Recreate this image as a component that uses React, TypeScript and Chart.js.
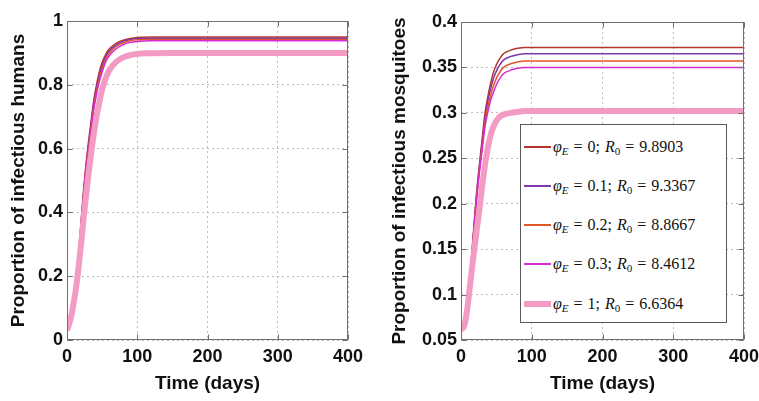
import React, { useEffect, useRef } from 'react';
import { Chart, registerables } from 'chart.js';
Chart.register(...registerables);

// ---- data ----
const timeDays = [0, 3, 6, 9, 12, 15, 18, 21, 24, 27, 30, 34, 38, 42, 46, 50, 55, 60, 70, 80, 90, 100, 120, 150, 200, 250, 300, 350, 400];

const phiLabels = ['0', '0.1', '0.2', '0.3', '1'];
const r0Labels = ['9.8903', '9.3367', '8.8667', '8.4612', '6.6364'];
const seriesColors = ['#b5332e', '#7d3aa8', '#e2562c', '#d52bd5', '#f39bc3'];
const seriesWidths = [1.5, 1.5, 1.5, 1.5, 6];

const humansPhi0 = [0.03, 0.05, 0.08, 0.12, 0.17, 0.23, 0.31, 0.40, 0.48, 0.55, 0.61, 0.68, 0.75, 0.80, 0.84, 0.87, 0.895, 0.912, 0.93, 0.94, 0.945, 0.948, 0.95, 0.95, 0.95, 0.95, 0.95, 0.95, 0.95];
const humansPhi01 = [0.03, 0.05, 0.08, 0.12, 0.17, 0.23, 0.31, 0.39, 0.47, 0.54, 0.60, 0.67, 0.74, 0.79, 0.83, 0.86, 0.888, 0.905, 0.925, 0.936, 0.942, 0.945, 0.946, 0.946, 0.946, 0.946, 0.946, 0.946, 0.946];
const humansPhi02 = [0.03, 0.05, 0.08, 0.12, 0.17, 0.23, 0.305, 0.385, 0.465, 0.535, 0.59, 0.66, 0.73, 0.78, 0.82, 0.85, 0.88, 0.898, 0.92, 0.932, 0.938, 0.941, 0.942, 0.942, 0.942, 0.942, 0.942, 0.942, 0.942];
const humansPhi03 = [0.03, 0.05, 0.08, 0.12, 0.17, 0.225, 0.30, 0.38, 0.46, 0.53, 0.58, 0.65, 0.72, 0.77, 0.81, 0.84, 0.872, 0.89, 0.913, 0.926, 0.933, 0.936, 0.938, 0.938, 0.938, 0.938, 0.938, 0.938, 0.938];
const humansPhi1 = [0.03, 0.05, 0.075, 0.11, 0.15, 0.20, 0.26, 0.32, 0.39, 0.45, 0.51, 0.58, 0.645, 0.70, 0.745, 0.785, 0.82, 0.845, 0.872, 0.886, 0.893, 0.897, 0.899, 0.90, 0.90, 0.90, 0.90, 0.90, 0.90];

const mosqPhi0 = [0.062, 0.065, 0.075, 0.093, 0.115, 0.142, 0.172, 0.203, 0.228, 0.25, 0.272, 0.30, 0.318, 0.333, 0.345, 0.353, 0.36, 0.365, 0.369, 0.371, 0.372, 0.372, 0.372, 0.372, 0.372, 0.372, 0.372, 0.372, 0.372];
const mosqPhi01 = [0.062, 0.065, 0.075, 0.093, 0.115, 0.141, 0.17, 0.20, 0.225, 0.247, 0.268, 0.295, 0.313, 0.327, 0.338, 0.346, 0.353, 0.358, 0.362, 0.364, 0.365, 0.365, 0.365, 0.365, 0.365, 0.365, 0.365, 0.365, 0.365];
const mosqPhi02 = [0.062, 0.065, 0.075, 0.093, 0.114, 0.14, 0.169, 0.198, 0.222, 0.244, 0.264, 0.29, 0.307, 0.32, 0.33, 0.338, 0.345, 0.35, 0.354, 0.356, 0.357, 0.357, 0.357, 0.357, 0.357, 0.357, 0.357, 0.357, 0.357];
const mosqPhi03 = [0.062, 0.065, 0.075, 0.092, 0.113, 0.139, 0.168, 0.196, 0.22, 0.241, 0.26, 0.285, 0.301, 0.314, 0.323, 0.331, 0.338, 0.343, 0.347, 0.349, 0.35, 0.35, 0.35, 0.35, 0.35, 0.35, 0.35, 0.35, 0.35];
const mosqPhi1 = [0.062, 0.063, 0.07, 0.085, 0.105, 0.125, 0.145, 0.163, 0.182, 0.20, 0.22, 0.243, 0.262, 0.276, 0.285, 0.291, 0.296, 0.298, 0.30, 0.301, 0.302, 0.302, 0.302, 0.302, 0.302, 0.302, 0.302, 0.302, 0.302];

const xTicks = [0, 100, 200, 300, 400];
const humansYTicks = [0, 0.2, 0.4, 0.6, 0.8, 1];
const mosqYTicks = [0.05, 0.1, 0.15, 0.2, 0.25, 0.3, 0.35, 0.4];

const humansSeries = [humansPhi0, humansPhi01, humansPhi02, humansPhi03, humansPhi1];
const mosqSeries = [mosqPhi0, mosqPhi01, mosqPhi02, mosqPhi03, mosqPhi1];

const W = 759;
const H = 401;

const boxPlugin = {
  id: 'matlabBox',
  afterDraw(chart: any) {
    const { ctx, chartArea: a, scales } = chart;
    const l = Math.round(a.left) + 0.5;
    const t = Math.round(a.top) + 0.5;
    const r = Math.round(a.right) - 0.5;
    const b = Math.round(a.bottom) - 0.5;
    ctx.save();
    ctx.strokeStyle = '#6f6f6f';
    ctx.lineWidth = 1;
    ctx.strokeRect(l, t, r - l, b - t);
    const len = 5;
    ctx.beginPath();
    for (const tk of scales.x.ticks) {
      const x = Math.round(scales.x.getPixelForValue(tk.value)) + 0.5;
      ctx.moveTo(x, b); ctx.lineTo(x, b - len);
      ctx.moveTo(x, t); ctx.lineTo(x, t + len);
    }
    for (const tk of scales.y.ticks) {
      const y = Math.round(scales.y.getPixelForValue(tk.value)) + 0.5;
      ctx.moveTo(l, y); ctx.lineTo(l + len, y);
      ctx.moveTo(r, y); ctx.lineTo(r - len, y);
    }
    ctx.stroke();
    ctx.restore();
  },
};

type PanelProps = {
  left: number;
  width: number;
  series: number[][];
  yTicks: number[];
  yMin: number;
  yMax: number;
  yTitle: string;
  yAxisWidth: number;
  padTop: number;
  padRight: number;
  yTitlePad: number;
};

function Panel(p: PanelProps) {
  const ref = useRef<HTMLCanvasElement | null>(null);
  useEffect(() => {
    if (!ref.current) return;
    const datasets = p.series.map((vals, i) => ({
      label: 'phi=' + phiLabels[i],
      data: timeDays.map((t, k) => ({ x: t, y: vals[k] })),
      borderColor: seriesColors[i],
      backgroundColor: seriesColors[i],
      borderWidth: seriesWidths[i],
      pointRadius: 0,
      fill: false,
      cubicInterpolationMode: 'monotone' as const,
      order: i === 4 ? 0 : 5 - i,
    }));
    const tickFont = { family: "'Liberation Sans', Arial, sans-serif", size: 18, weight: 'bold' as const };
    const titleFont = { family: "'Liberation Sans', Arial, sans-serif", size: 19, weight: 'bold' as const };
    const chart = new Chart(ref.current, {
      type: 'line',
      data: { datasets },
      options: {
        animation: false,
        responsive: false,
        devicePixelRatio: 1,
        layout: { padding: { left: 0, top: p.padTop, right: p.padRight, bottom: 0 } },
        plugins: { legend: { display: false }, tooltip: { enabled: false } },
        scales: {
          x: {
            type: 'linear',
            min: 0,
            max: 400,
            afterBuildTicks: (s: any) => { s.ticks = xTicks.map((v) => ({ value: v })); },
            afterFit: (s: any) => { s.height = H - 340; },
            ticks: { font: tickFont, color: '#111', padding: 6, maxRotation: 0, callback: (v: any) => String(v) },
            grid: { color: '#bdbdbd', drawTicks: false, lineWidth: 1 },
            border: { display: false, dash: [2, 3] },
            title: { display: true, text: 'Time (days)', font: titleFont, color: '#111', padding: { top: 0, bottom: 6 } },
          },
          y: {
            type: 'linear',
            min: p.yMin,
            max: p.yMax,
            afterBuildTicks: (s: any) => { s.ticks = p.yTicks.map((v) => ({ value: v })); },
            afterFit: (s: any) => { s.width = p.yAxisWidth; },
            ticks: { font: tickFont, color: '#111', padding: 4, callback: (v: any) => String(v) },
            grid: { color: '#bdbdbd', drawTicks: false, lineWidth: 1 },
            border: { display: false, dash: [2, 3] },
            title: { display: true, text: p.yTitle, font: titleFont, color: '#111', padding: { top: p.yTitlePad, bottom: 0 } },
          },
        },
      },
      plugins: [boxPlugin],
    });
    return () => chart.destroy();
  }, []);
  return (
    <canvas
      ref={ref}
      width={p.width}
      height={H}
      style={{ position: 'absolute', left: p.left, top: 0, width: p.width, height: H }}
    />
  );
}

function LegendBox() {
  const boxLeft = 520;
  const boxTop = 124;
  const rowCenters = [146, 185, 224, 263, 303];
  return (
    <div
      style={{
        position: 'absolute',
        left: boxLeft,
        top: boxTop,
        width: 207,
        height: 199,
        boxSizing: 'border-box',
        border: '1px solid #5a5a5a',
        background: '#fff',
        fontFamily: "'Liberation Serif', 'DejaVu Serif', serif",
        fontSize: 16,
        color: '#111',
      }}
    >
      {phiLabels.map((phi, i) => (
        <div
          key={i}
          style={{ position: 'absolute', left: 0, top: rowCenters[i] - boxTop - 10, height: 20, width: 205, whiteSpace: 'nowrap' }}
        >
          <div
            style={{
              position: 'absolute',
              left: 3,
              top: 10 - seriesWidths[i] / 2,
              width: 27,
              height: seriesWidths[i],
              background: seriesColors[i],
            }}
          />
          <div style={{ position: 'absolute', left: 32, top: 0, lineHeight: '20px', wordSpacing: 1 }}>
            <i>φ</i>
            <sub style={{ fontSize: 11, fontStyle: 'italic', verticalAlign: -3 }}>E</sub>
            {' = ' + phi + '; '}
            <i>R</i>
            <sub style={{ fontSize: 11, verticalAlign: -3 }}>0</sub>
            {' = ' + r0Labels[i]}
          </div>
        </div>
      ))}
    </div>
  );
}

export default function App() {
  return (
    <div style={{ position: 'fixed', left: 0, top: 0, width: W, height: H, background: '#fff', overflow: 'hidden' }}>
      <Panel
        left={0}
        width={375}
        series={humansSeries}
        yTicks={humansYTicks}
        yMin={0}
        yMax={1}
        yTitle="Proportion of infectious humans"
        yAxisWidth={67}
        padTop={21}
        padRight={27}
        yTitlePad={7}
      />
      <Panel
        left={375}
        width={400}
        series={mosqSeries}
        yTicks={mosqYTicks}
        yMin={0.05}
        yMax={0.4}
        yTitle="Proportion of infectious mosquitoes"
        yAxisWidth={86}
        padTop={22}
        padRight={31}
        yTitlePad={13}
      />
      <LegendBox />
    </div>
  );
}
